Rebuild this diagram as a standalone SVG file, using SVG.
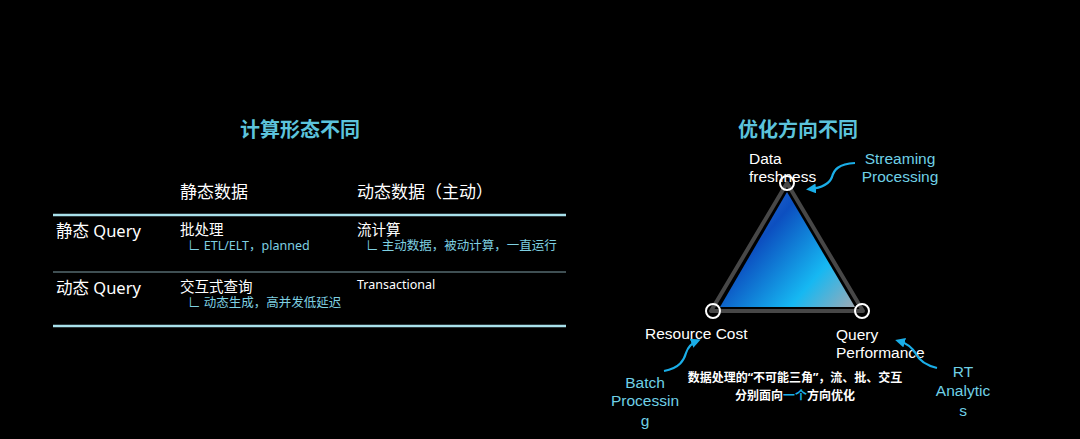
<svg xmlns="http://www.w3.org/2000/svg" width="1080" height="439" viewBox="0 0 1080 439">
<style>
text{font-family:"Noto Sans","Noto Sans CJK SC",sans-serif;}
.title{font-size:20px;font-weight:bold;fill:#5cc3dc;text-anchor:middle;}
.hdr{font-size:17px;fill:#ffffff;}
.rowh{font-size:16.5px;fill:#ffffff;}
.cell{font-size:14.5px;fill:#ffffff;}
.sub{font-size:12.5px;fill:#7fd0e2;}
.lbl{font-family:"Liberation Sans",Arial,sans-serif;font-size:15.5px;fill:#ffffff;}
.cy{font-family:"Liberation Sans",Arial,sans-serif;font-size:15.5px;fill:#6fd0e6;text-anchor:middle;}
.cap{font-size:12px;font-weight:bold;fill:#ffffff;text-anchor:middle;}
.arr{fill:none;stroke:#1aaee8;stroke-width:2.2;marker-end:url(#ah);}
.node{fill:none;stroke:#ffffff;stroke-width:2;}
</style>
<defs>
<marker id="ah" viewBox="0 0 10 10" refX="6" refY="5" markerWidth="4.5" markerHeight="4.5" orient="auto"><path d="M0,0 L10,5 L0,10 z" fill="#1aaee8"/></marker>
<linearGradient id="tg" x1="720" y1="192" x2="855" y2="308" gradientUnits="userSpaceOnUse">
<stop offset="0" stop-color="#3a7fe0"/>
<stop offset="0.35" stop-color="#0c4fc0"/>
<stop offset="0.72" stop-color="#16b8f2"/>
<stop offset="1" stop-color="#a0aab4"/>
</linearGradient>
</defs>
<rect width="1080" height="439" fill="#000000"/>

<g id="left-table">
<text class="title" x="300" y="137">计算形态不同</text>
<text class="hdr" x="180" y="198">静态数据</text>
<text class="hdr" x="357" y="198">动态数据（主动）</text>
<line x1="53" y1="215" x2="566" y2="215" stroke="#a8e0ea" stroke-width="2.5"/>
<line x1="53" y1="272" x2="566" y2="272" stroke="#7f9ea6" stroke-width="1"/>
<line x1="53" y1="326" x2="566" y2="326" stroke="#a8e0ea" stroke-width="2.5"/>
<text class="rowh" x="56" y="237">静态 Query</text>
<text class="cell" x="180" y="235">批处理</text>
<text class="sub" x="188" y="250">∟ ETL/ELT，planned</text>
<text class="cell" x="357" y="235">流计算</text>
<text class="sub" x="366" y="250">∟ 主动数据，被动计算，一直运行</text>
<text class="rowh" x="56" y="294">动态 Query</text>
<text class="cell" x="180" y="292">交互式查询</text>
<text class="sub" x="188" y="307">∟ 动态生成，高并发低延迟</text>
<text class="cell" x="357" y="289" style="font-size:12.5px">Transactional</text>
</g>

<g id="triangle">
<text class="title" x="798" y="137">优化方向不同</text>
<polygon points="787,183 711,311 863,311" fill="none" stroke="#474747" stroke-width="4" stroke-linejoin="round"/>
<polygon points="787,192 720,307 855,307" fill="url(#tg)"/>
</g>

<g id="node-freshness">
<circle class="node" cx="787" cy="183" r="7"/>
<text class="lbl" x="749" y="164">Data</text>
<text class="lbl" x="749" y="182">freshness</text>
</g>
<g id="node-cost">
<circle class="node" cx="713" cy="311" r="7"/>
<text class="lbl" x="645" y="339">Resource Cost</text>
</g>
<g id="node-perf">
<circle class="node" cx="862" cy="311" r="7"/>
<text class="lbl" x="836" y="340">Query</text>
<text class="lbl" x="836" y="358">Performance</text>
</g>

<g id="streaming">
<text class="cy" x="900" y="164">Streaming</text>
<text class="cy" x="900" y="182">Processing</text>
</g>
<g id="batch">
<text class="cy" x="645" y="388">Batch</text>
<text class="cy" x="645" y="406">Processin</text>
<text class="cy" x="645" y="426">g</text>
</g>
<g id="rt">
<text class="cy" x="963" y="377">RT</text>
<text class="cy" x="963" y="396">Analytic</text>
<text class="cy" x="963" y="416">s</text>
</g>

<g id="connectors">
<path class="arr" d="M855,163 C838,164 834,170 832,177 C829,185 820,188 810,189"/>
<path class="arr" d="M664,371 C680,368 684,360 686,353 C688,347 692,343 697,341"/>
<path class="arr" d="M937,368 C925,365 919,360 916,354 C912,347 906,343 899,341"/>
</g>

<g id="caption">
<text class="cap" x="795" y="382">数据处理的“不可能三角”，流、批、交互</text>
<text class="cap" x="795" y="400">分别面向<tspan fill="#1aaee8">一个</tspan>方向优化</text>
</g>
</svg>
